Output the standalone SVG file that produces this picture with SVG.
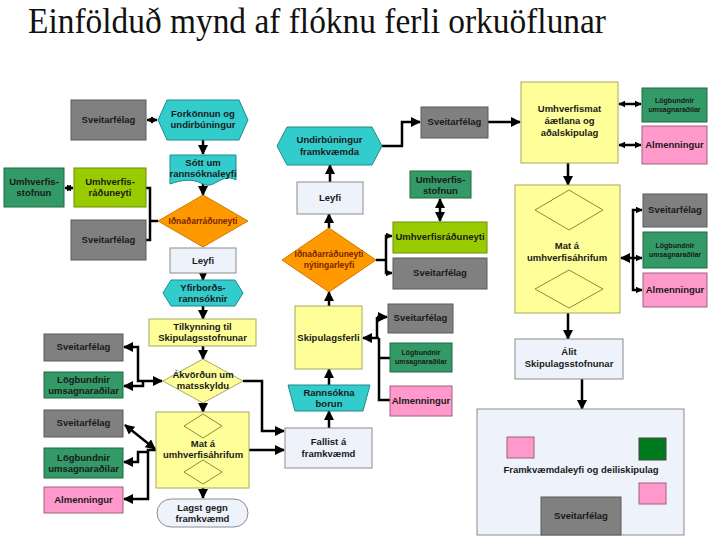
<svg xmlns="http://www.w3.org/2000/svg" width="713" height="540" viewBox="0 0 713 540">
<style>
.t{font-family:"Liberation Sans",Arial,sans-serif;font-weight:bold;font-size:9.5px;text-anchor:middle;fill:#1a1a1a}
.s{font-size:7px}
.r{fill:#7a1f00}
.gray{fill:#808080;stroke:#5a5a5a;stroke-width:1}
.lime{fill:#99cc00;stroke:#6b8f00;stroke-width:1}
.dg{fill:#339966;stroke:#1f6b44;stroke-width:1}
.pink{fill:#ff99cc;stroke:#a0607f;stroke-width:1}
.yel{fill:#ffff99;stroke:#a8a860;stroke-width:1}
.cyan{fill:#33cccc;stroke:#208a8a;stroke-width:1}
.org{fill:#ff9900;stroke:#cc7a00;stroke-width:1}
.lt{fill:#eef2fa;stroke:#8c8c8c;stroke-width:1}
.dia{fill:none;stroke:#8a8a40;stroke-width:1}
.c{fill:none;stroke:#000;stroke-width:2.5}
.a{marker-end:url(#ah)}
.b{marker-start:url(#ah);marker-end:url(#ah)}
.as{marker-end:url(#sm)}
.bs{marker-start:url(#sm);marker-end:url(#sm)}
</style>
<defs>
<marker id="ah" viewBox="0 0 10 10" refX="9" refY="5" markerWidth="10" markerHeight="10" markerUnits="userSpaceOnUse" orient="auto-start-reverse"><path d="M0,0 L10,5 L0,10 z" fill="#000"/></marker>
<marker id="sm" viewBox="0 0 10 10" refX="9" refY="5" markerWidth="7" markerHeight="7" markerUnits="userSpaceOnUse" orient="auto-start-reverse"><path d="M0,0 L10,5 L0,10 z" fill="#000"/></marker>
</defs>
<rect width="713" height="540" fill="#fff"/>
<text x="28" y="33" font-family="'Liberation Serif','Times New Roman',serif" font-size="35" textLength="578" lengthAdjust="spacingAndGlyphs" fill="#111">Einfölduð mynd af flóknu ferli orkuöflunar</text>

<g id="connectors">
<path class="c bs" d="M147,120 H157"/>
<path class="c a" d="M203,140 V154"/>
<path class="c a" d="M203,181 V195"/>
<path class="c bs" d="M65,188 H73"/>
<path class="c" d="M146,188 H150 V240 H146 M150,221 H158"/>
<path class="c a" d="M203,273 V280"/>
<path class="c a" d="M203,306 V319"/>
<path class="c a" d="M203,346 V359"/>
<path class="c b" d="M162,381 H138 V347 H124"/>
<path class="c a" d="M143,381 V386 H124"/>
<path class="c a" d="M203,403 V412"/>
<path class="c b" d="M155,449 L125,425"/>
<path class="c a" d="M156,450 H148 V499 H124"/>
<path class="c a" d="M148,452 H138 V462 H124"/>
<path class="c a" d="M203,488 V498"/>
<path class="c a" d="M243,381 H262 V431 H284"/>
<path class="c a" d="M249,450 H284"/>
<path class="c a" d="M329,428 V411"/>
<path class="c a" d="M329,385 V369"/>
<path class="c a" d="M329,306 V292"/>
<path class="c a" d="M377,317 H387"/>
<path class="c" d="M377,317 V338 M379,338 V400 H390 M379,358 H390"/>
<path class="c a" d="M379,338 H363"/>
<path class="c a" d="M329,228 V214"/>
<path class="c a" d="M330,182 V165"/>
<path class="c a" d="M382,146 H402 V122 H420"/>
<path class="c a" d="M488,122 H520"/>
<path class="c b" d="M440,199 V221"/>
<path class="c" d="M376,260 H386"/>
<path class="c as" d="M386,255 V236 H392"/>
<path class="c as" d="M386,255 V273 H392"/>
<path class="c bs" d="M619,104 H641"/>
<path class="c bs" d="M619,145 H641"/>
<path class="c a" d="M568,163 V185"/>
<path class="c a" d="M633,258 H621"/>
<path class="c as" d="M633,258 H642"/>
<path class="c as" d="M633,250 V210 H642"/>
<path class="c as" d="M633,250 V290 H642"/>
<path class="c a" d="M568,313 V339"/>
<path class="c a" d="M582,379 V409"/>
</g>

<g id="n-sveit1"><rect class="gray" x="71" y="100" width="75" height="40"/><text class="t" x="108.5" y="123">Sveitarfélag</text></g>
<g id="n-forkonnun"><polygon class="cyan" points="158,120 167,100 239,100 248,120 239,140 167,140"/><text class="t" x="203" y="117">Forkönnun og</text><text class="t" x="203" y="128">undirbúningur</text></g>
<g id="n-sott"><path class="cyan" d="M170,155 H236 V180 C222,172 214,190 203,184 C192,178 182,180 170,184 Z"/><text class="t" x="203" y="166">Sótt um</text><text class="t" x="203" y="177">rannsóknaleyfi</text></g>
<g id="n-idn1"><polygon class="org" points="203,195 248,221 203,247 158,221"/><text class="t r" x="203" y="224" style="font-size:8.5px">Iðnaðarráðuneyti</text></g>
<g id="n-umhstofn1"><rect class="dg" x="4" y="168" width="60" height="39"/><text class="t" x="34" y="185">Umhverfis-</text><text class="t" x="34" y="196">stofnun</text></g>
<g id="n-umhradun1"><rect class="lime" x="74" y="168" width="72" height="39"/><text class="t" x="110" y="185">Umhverfis-</text><text class="t" x="110" y="196">ráðuneyti</text></g>
<g id="n-sveit2"><rect class="gray" x="71" y="220" width="75" height="40"/><text class="t" x="108.5" y="243">Sveitarfélag</text></g>
<g id="n-leyfi1"><rect class="lt" x="170" y="248" width="66" height="25"/><text class="t" x="203" y="264">Leyfi</text></g>
<g id="n-yfirbords"><polygon class="cyan" points="163,293 171,280 235,280 243,293 235,306 171,306"/><text class="t" x="203" y="291">Yfirborðs-</text><text class="t" x="203" y="302">rannsóknir</text></g>
<g id="n-tilkynning"><rect class="yel" x="149" y="319" width="107" height="27"/><text class="t" x="202.5" y="330">Tilkynning til</text><text class="t" x="202.5" y="341">Skipulagsstofnunar</text></g>
<g id="n-akvordun"><polygon class="yel" points="203,359 243,381 203,403 163,381"/><text class="t" x="203" y="378">Ákvörðun um</text><text class="t" x="203" y="389">matsskyldu</text></g>
<g id="n-sveit3"><rect class="gray" x="44" y="334" width="79" height="27"/><text class="t" x="83.5" y="350">Sveitarfélag</text></g>
<g id="n-logb1"><rect class="dg" x="44" y="372" width="79" height="26"/><text class="t" x="83.5" y="383">Lögbundnir</text><text class="t" x="83.5" y="394">umsagnaraðilar</text></g>
<g id="n-mat1"><rect class="yel" x="156" y="412" width="93" height="76"/><polygon class="dia" points="203,414 222,426 203,438 184,426"/><polygon class="dia" points="203,460 222,472 203,484 184,472"/><text class="t" x="203" y="447">Mat á</text><text class="t" x="203" y="458">umhverfisáhrifum</text></g>
<g id="n-sveit4"><rect class="gray" x="44" y="410" width="79" height="27"/><text class="t" x="83.5" y="426">Sveitarfélag</text></g>
<g id="n-logb2"><rect class="dg" x="44" y="448" width="79" height="30"/><text class="t" x="83.5" y="461">Lögbundnir</text><text class="t" x="83.5" y="472">umsagnaraðilar</text></g>
<g id="n-almenn1"><rect class="pink" x="44" y="487" width="79" height="26"/><text class="t" x="83.5" y="503">Almenningur</text></g>
<g id="n-lagst"><rect class="lt" x="157" y="499" width="91" height="28" rx="14"/><text class="t" x="202.5" y="511">Lagst gegn</text><text class="t" x="202.5" y="522">framkvæmd</text></g>

<g id="n-fallist"><rect class="lt" x="285" y="428" width="87" height="40"/><text class="t" x="328.5" y="445">Fallist á</text><text class="t" x="328.5" y="457">framkvæmd</text></g>
<g id="n-rannsokna"><polygon class="cyan" points="288,385 370,385 363,411 295,411"/><text class="t" x="329" y="396">Rannsókna</text><text class="t" x="329" y="407">borun</text></g>
<g id="n-skipulagsferli"><rect class="yel" x="295" y="306" width="67" height="63"/><text class="t" x="328.5" y="341">Skipulagsferli</text></g>
<g id="n-sveit5"><rect class="gray" x="388" y="304" width="65" height="29"/><text class="t" x="420.5" y="321">Sveitarfélag</text></g>
<g id="n-logb3"><rect class="dg" x="390" y="343" width="62" height="29"/><text class="t s" x="421" y="355">Lögbundnir</text><text class="t s" x="421" y="364">umsagnaraðilar</text></g>
<g id="n-almenn2"><rect class="pink" x="390" y="386" width="62" height="30"/><text class="t" x="421" y="404">Almenningur</text></g>
<g id="n-idn2"><polygon class="org" points="329,228 376,260 329,292 282,260"/><text class="t r" x="329" y="257" style="font-size:8.5px">Iðnaðarráðuneyti</text><text class="t r" x="329" y="268" style="font-size:8.5px">nýtingarleyfi</text></g>
<g id="n-leyfi2"><rect class="lt" x="297" y="182" width="66" height="32"/><text class="t" x="330" y="201">Leyfi</text></g>
<g id="n-undirb"><polygon class="cyan" points="277,146 287,127 372,127 382,146 372,165 287,165"/><text class="t" x="329.5" y="143">Undirbúningur</text><text class="t" x="329.5" y="155">framkvæmda</text></g>
<g id="n-sveit6"><rect class="gray" x="421" y="107" width="67" height="31"/><text class="t" x="454.5" y="125">Sveitarfélag</text></g>
<g id="n-umhstofn2"><rect class="dg" x="410" y="171" width="61" height="27"/><text class="t" x="440.5" y="183">Umhverfis-</text><text class="t" x="440.5" y="194">stofnun</text></g>
<g id="n-umhradun2"><rect class="lime" x="393" y="222" width="94" height="31"/><text class="t" x="440" y="240">Umhverfisráðuneyti</text></g>
<g id="n-sveit7"><rect class="gray" x="393" y="258" width="94" height="31"/><text class="t" x="440" y="276">Sveitarfélag</text></g>

<g id="n-umhverfismat"><rect class="yel" x="521" y="82" width="97" height="81"/><text class="t" x="569.5" y="112">Umhverfismat</text><text class="t" x="569.5" y="124">áætlana og</text><text class="t" x="569.5" y="136">aðalskipulag</text></g>
<g id="n-logb4"><rect class="dg" x="642" y="88" width="65" height="34"/><text class="t s" x="674.5" y="103">Lögbundnir</text><text class="t s" x="674.5" y="112">umsagnaraðilar</text></g>
<g id="n-almenn3"><rect class="pink" x="642" y="126" width="65" height="38"/><text class="t" x="674.5" y="148">Almenningur</text></g>
<g id="n-mat2"><rect class="yel" x="515" y="185" width="105" height="128"/><polygon class="dia" points="569,190 603,210 569,230 535,210"/><polygon class="dia" points="569,270 603,289 569,308 535,289"/><text class="t" x="567" y="249">Mat á</text><text class="t" x="567" y="261">umhverfisáhrifum</text></g>
<g id="n-sveit8"><rect class="gray" x="643" y="194" width="64" height="33"/><text class="t" x="675" y="213">Sveitarfélag</text></g>
<g id="n-logb5"><rect class="dg" x="643" y="232" width="64" height="36"/><text class="t s" x="675" y="248">Lögbundnir</text><text class="t s" x="675" y="257">umsagnaraðilar</text></g>
<g id="n-almenn4"><rect class="pink" x="643" y="273" width="64" height="34"/><text class="t" x="675" y="293">Almenningur</text></g>
<g id="n-alit"><rect class="lt" x="515" y="339" width="108" height="40"/><text class="t" x="569" y="355">Álit</text><text class="t" x="569" y="367">Skipulagsstofnunar</text></g>
<g id="n-framkv"><rect class="lt" x="477" y="409" width="207" height="126"/><rect class="pink" x="507" y="437" width="27" height="21"/><rect x="639" y="438" width="27" height="22" fill="#007a1f" stroke="#444"/><rect class="pink" x="639" y="483" width="27" height="21"/><text class="t" x="581" y="473">Framkvæmdaleyfi og deiliskipulag</text><rect class="gray" x="541" y="497" width="80" height="38"/><text class="t" x="581" y="519">Sveitarfélag</text></g>
</svg>
